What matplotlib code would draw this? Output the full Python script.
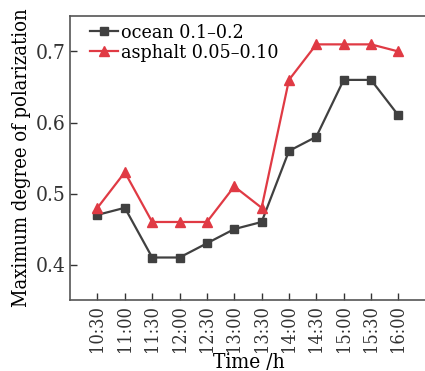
import matplotlib
matplotlib.use('Agg')
import matplotlib.pyplot as plt

# Datos
horas = ['10:30', '11:00', '11:30', '12:00', '12:30', '13:00', '13:30',
         '14:00', '14:30', '15:00', '15:30', '16:00']
oceano = [0.47, 0.48, 0.41, 0.41, 0.43, 0.45, 0.46, 0.56, 0.58, 0.66, 0.66, 0.61]
asfalto = [0.48, 0.53, 0.46, 0.46, 0.46, 0.51, 0.48, 0.66, 0.71, 0.71, 0.71, 0.70]

plt.rcParams['font.family'] = ['DejaVu Serif']
plt.rcParams['font.stretch'] = 'condensed'

fig = plt.figure(figsize=(4.25, 3.71), dpi=100)
ax = fig.add_axes([0.165, 0.191, 0.84, 0.766])

x = list(range(len(horas)))
ax.plot(x, oceano, color='#404040', marker='s', markersize=5.5, linewidth=1.6,
        label='ocean 0.1\u20130.2')
ax.plot(x, asfalto, color='#e03a44', marker='^', markersize=6.5, linewidth=1.6,
        label='asphalt 0.05\u20130.10')

ax.set_xlim(-1, 12.05)
ax.set_ylim(0.35, 0.75)
ax.set_xticks(x)
ax.set_xticklabels(horas, rotation=90, fontsize=13)
ax.set_yticks([0.4, 0.5, 0.6, 0.7])
ax.set_yticklabels(['0.4', '0.5', '0.6', '0.7'], fontsize=15)
ax.tick_params(direction='in', length=5, width=1, colors='#333333')
for s in ax.spines.values():
    s.set_color('#555555')
    s.set_linewidth(1.2)

ax.set_xlabel('Time /h', fontsize=15, labelpad=1)
ax.set_ylabel('Maximum degree of polarization', fontsize=14.5, labelpad=3)

ax.legend(loc='upper left', frameon=False, fontsize=14, handlelength=1.4,
          handletextpad=0.15, borderaxespad=0.2, labelspacing=0.1,
          borderpad=0.2, bbox_to_anchor=(0.035, 1.0))

fig.savefig('out.png', dpi=100)
